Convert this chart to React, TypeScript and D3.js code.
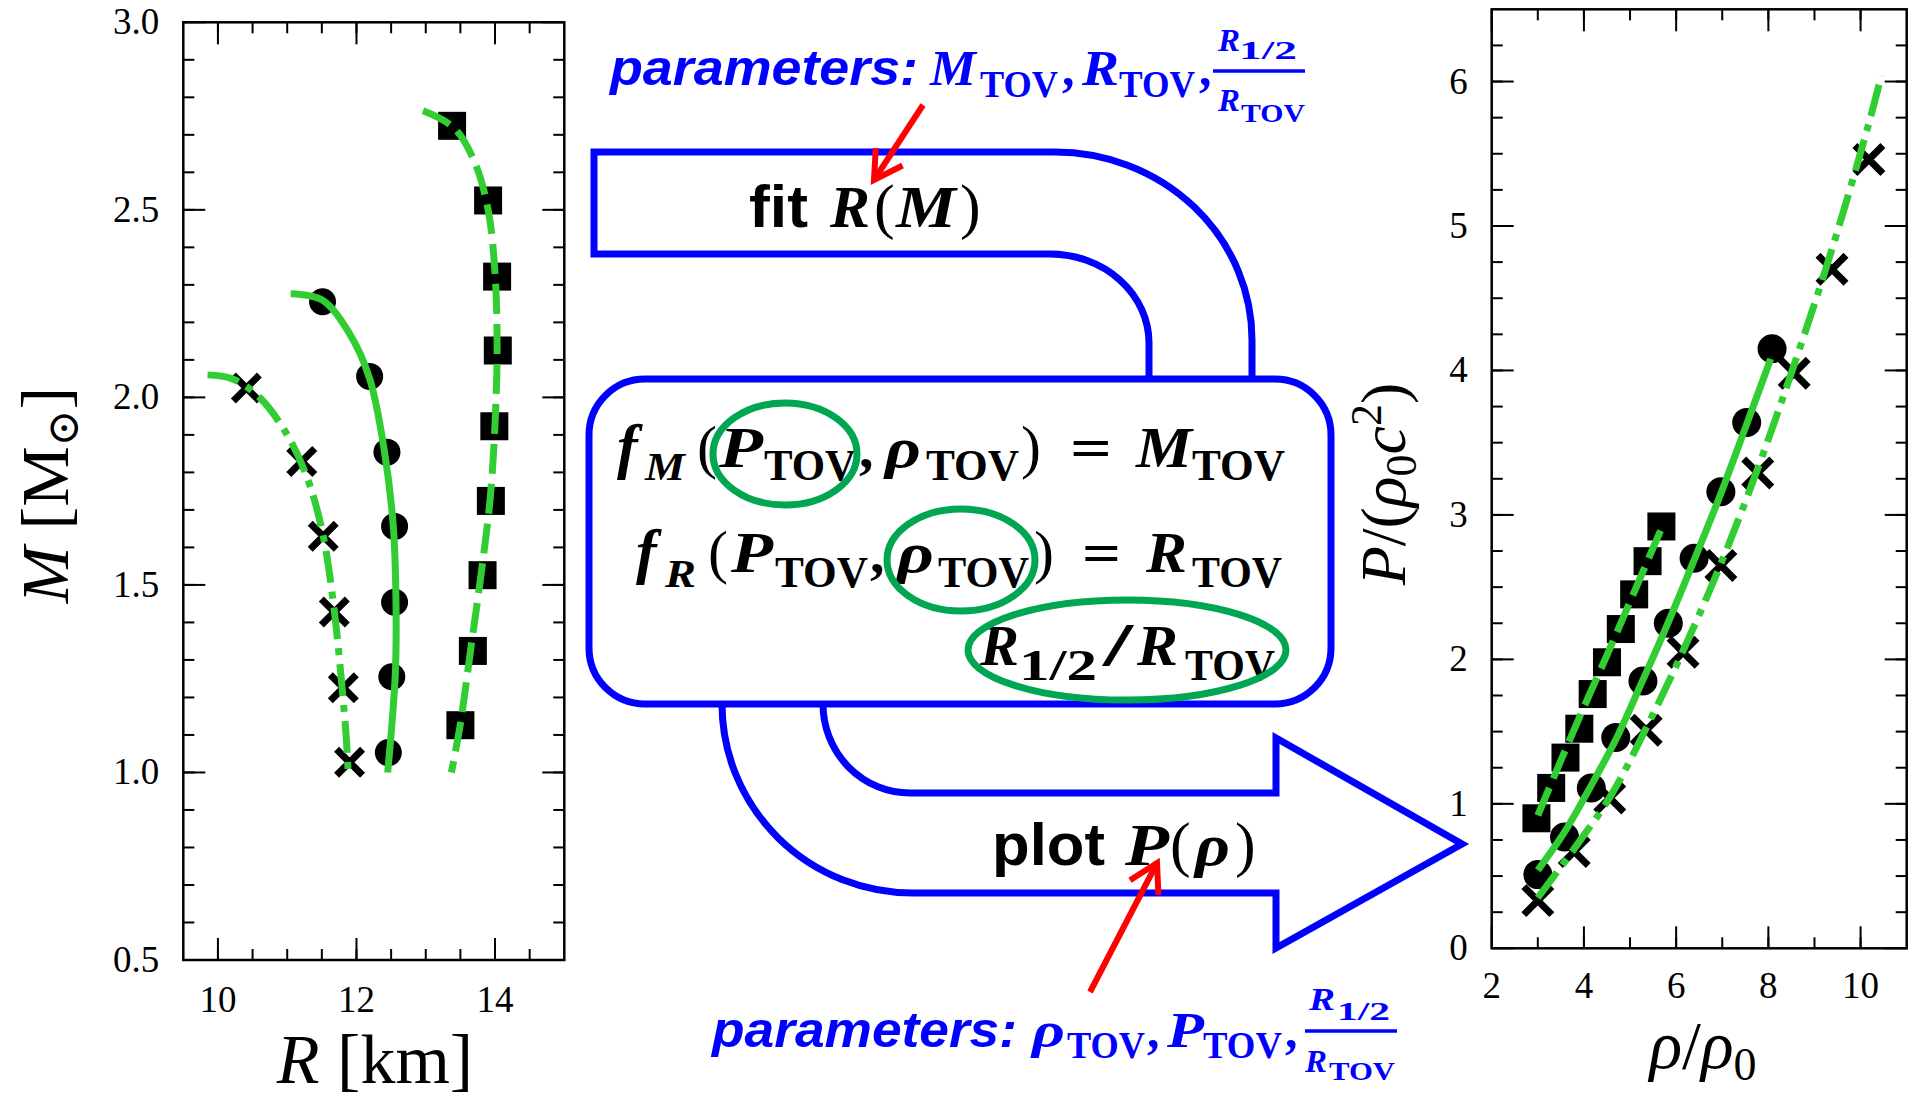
import * as d3 from "d3";
import React from "react";

const W = 1915;
const H = 1103;
const BLUE = "#0000ff";
const FIT_GREEN = "#32cd32";
const RING_GREEN = "#00a651";
const SERIF = "Liberation Serif";
const SANS = "Liberation Sans";

// ---- left panel: M(R) ----
const mrCrossR = [10.41, 11.21, 11.52, 11.68, 11.81, 11.9];
const mrCrossM = [2.025, 1.829, 1.63, 1.428, 1.226, 1.027];
const mrCircleR = [11.51, 12.19, 12.44, 12.55, 12.55, 12.51, 12.46];
const mrCircleM = [2.255, 2.056, 1.854, 1.656, 1.454, 1.255, 1.053];
const mrSquareR = [13.38, 13.9, 14.03, 14.04, 13.99, 13.94, 13.82, 13.68, 13.5];
const mrSquareM = [2.724, 2.525, 2.322, 2.125, 1.923, 1.724, 1.526, 1.324, 1.126];

const fitCrossR = [9.85, 10.2, 10.6, 11.0, 11.3, 11.52, 11.68, 11.79, 11.85, 11.88];
const fitCrossM = [2.06, 2.05, 2.0, 1.9, 1.78, 1.63, 1.43, 1.23, 1.1, 1.0];
const fitCircleR = [11.05, 11.5, 11.9, 12.19, 12.4, 12.53, 12.57, 12.56, 12.45];
const fitCircleM = [2.276, 2.26, 2.17, 2.05, 1.86, 1.66, 1.46, 1.26, 1.0];
const fitSquareR = [12.96, 13.4, 13.7, 13.9, 14.0, 14.03, 14.0, 13.93, 13.8, 13.65, 13.5, 13.37];
const fitSquareM = [2.764, 2.72, 2.63, 2.5, 2.33, 2.13, 1.93, 1.73, 1.53, 1.33, 1.13, 1.0];

const leftXTicks = [10, 12, 14];
const leftYTicks = [0.5, 1.0, 1.5, 2.0, 2.5, 3.0];

// ---- right panel: P(rho) ----
const prSquareRho = [2.97, 3.29, 3.6, 3.9, 4.19, 4.5, 4.8, 5.09, 5.38, 5.68];
const prSquareP = [0.9, 1.11, 1.32, 1.52, 1.76, 1.98, 2.21, 2.45, 2.68, 2.92];
const prCircleRho = [3.0, 3.58, 4.16, 4.69, 5.28, 5.83, 6.39, 6.97, 7.53, 8.08];
const prCircleP = [0.51, 0.77, 1.11, 1.46, 1.85, 2.25, 2.7, 3.16, 3.64, 4.15];
const prCrossRho = [3.0, 3.79, 4.56, 5.35, 6.15, 6.97, 7.77, 8.56, 9.38, 10.18];
const prCrossP = [0.33, 0.67, 1.04, 1.51, 2.05, 2.65, 3.29, 3.98, 4.7, 5.46];

const fitSquareRho = [3.0, 3.5, 4.0, 4.5, 5.0, 5.7];
const fitSquareP = [0.92, 1.3, 1.67, 2.03, 2.4, 2.92];
const fitCircleRho = [3.0, 3.57, 4.11, 4.73, 5.24, 5.82, 6.38, 6.96, 7.52, 8.05];
const fitCircleP = [0.54, 0.8, 1.1, 1.47, 1.83, 2.25, 2.68, 3.14, 3.62, 4.08];
const fitCrossRho = [3.0, 3.79, 4.59, 5.39, 6.18, 6.98, 7.78, 8.57, 9.37, 10.17, 10.45];
const fitCrossP = [0.35, 0.69, 1.06, 1.55, 2.08, 2.67, 3.33, 4.05, 4.83, 5.7, 6.04];

const rightXTicks = [2, 4, 6, 8, 10];
const rightYTicks = [0, 1, 2, 3, 4, 5, 6];

const zip = (a: number[], b: number[]) => a.map((v, i) => [v, b[i]] as [number, number]);

type Scale = d3.ScaleLinear<number, number>;

const Frame = ({ x, y, xMajor, xMinor, yMajor, yMinor, xFmt, yFmt, xLabelY }: {
  x: Scale; y: Scale; xMajor: number[]; xMinor: number[]; yMajor: number[]; yMinor: number[];
  xFmt: (v: number) => string; yFmt: (v: number) => string; xLabelY: number;
}) => {
  const [l, r] = x.range();
  const [b, t] = y.range();
  const maj = 22, min = 11;
  return (
    <g>
      {xMinor.map((v) => (
        <g key={"xm" + v} stroke="#000" strokeWidth={2}>
          <line x1={x(v)} x2={x(v)} y1={b} y2={b - min} />
          <line x1={x(v)} x2={x(v)} y1={t} y2={t + min} />
        </g>
      ))}
      {xMajor.map((v) => (
        <g key={"xM" + v}>
          <line x1={x(v)} x2={x(v)} y1={b} y2={b - maj} stroke="#000" strokeWidth={2} />
          <line x1={x(v)} x2={x(v)} y1={t} y2={t + maj} stroke="#000" strokeWidth={2} />
          <text x={x(v)} y={xLabelY} textAnchor="middle" fontSize={37} style={{ fontFamily: SERIF }}>{xFmt(v)}</text>
        </g>
      ))}
      {yMinor.map((v) => (
        <g key={"ym" + v} stroke="#000" strokeWidth={2}>
          <line x1={l} x2={l + min} y1={y(v)} y2={y(v)} />
          <line x1={r} x2={r - min} y1={y(v)} y2={y(v)} />
        </g>
      ))}
      {yMajor.map((v) => (
        <g key={"yM" + v}>
          <line x1={l} x2={l + maj} y1={y(v)} y2={y(v)} stroke="#000" strokeWidth={2} />
          <line x1={r} x2={r - maj} y1={y(v)} y2={y(v)} stroke="#000" strokeWidth={2} />
          <text x={l - 24} y={y(v) + 12} textAnchor="end" fontSize={37} style={{ fontFamily: SERIF }}>{yFmt(v)}</text>
        </g>
      ))}
      <rect x={l} y={t} width={r - l} height={b - t} fill="none" stroke="#000" strokeWidth={2.5} />
    </g>
  );
};

const Markers = ({ pts, kind, size }: { pts: [number, number][]; kind: string; size: number }) => (
  <g>
    {pts.map(([px, py], i) => {
      if (kind === "circle") return <circle key={i} cx={px} cy={py} r={size} fill="#000" />;
      if (kind === "square")
        return <rect key={i} x={px - size} y={py - size} width={size * 2} height={size * 2} fill="#000" />;
      return (
        <path key={i} d={`M${px - size},${py - size}L${px + size},${py + size}M${px - size},${py + size}L${px + size},${py - size}`}
          stroke="#000" strokeWidth={7} fill="none" />
      );
    })}
  </g>
);

const Seg = ({ x, y, t, size, fam = SERIF, bold = true, italic = false, w, fill = "#000" }: {
  x: number; y: number; t: string; size: number; fam?: string; bold?: boolean; italic?: boolean; w?: number; fill?: string;
}) => (
  <text x={x} y={y} fontSize={size} fill={fill}
    style={{ fontFamily: fam, fontWeight: bold ? 700 : 400, fontStyle: italic ? "italic" : "normal" }}
    textLength={w} lengthAdjust={w ? "spacingAndGlyphs" : undefined}>{t}</text>
);

const RedArrow = ({ x1, y1, x2, y2 }: { x1: number; y1: number; x2: number; y2: number }) => {
  const a = Math.atan2(y2 - y1, x2 - x1);
  const L = 32, s = Math.PI / 6;
  const w1 = [x2 - L * Math.cos(a - s), y2 - L * Math.sin(a - s)];
  const w2 = [x2 - L * Math.cos(a + s), y2 - L * Math.sin(a + s)];
  return (
    <g stroke="#ff0000" strokeWidth={6} fill="none">
      <line x1={x1} y1={y1} x2={x2} y2={y2} />
      <path d={`M${w1[0]},${w1[1]}L${x2},${y2}L${w2[0]},${w2[1]}`} strokeLinejoin="miter" />
    </g>
  );
};

export default function App() {
  // left panel scales
  const xL = d3.scaleLinear().domain([9.5, 15]).range([183.3, 564.3]);
  const yL = d3.scaleLinear().domain([0.5, 3.0]).range([960, 22.3]);
  // right panel scales
  const xR = d3.scaleLinear().domain([2, 11]).range([1491.7, 1906.7]);
  const yR = d3.scaleLinear().domain([0, 6.5]).range([948.3, 9.3]);

  const lineL = d3.line<[number, number]>().x((d) => xL(d[0])).y((d) => yL(d[1])).curve(d3.curveCatmullRom);
  const lineR = d3.line<[number, number]>().x((d) => xR(d[0])).y((d) => yR(d[1])).curve(d3.curveCatmullRom);

  const ptsL = (a: number[], b: number[]) => zip(a, b).map(([u, v]) => [xL(u), yL(v)] as [number, number]);
  const ptsR = (a: number[], b: number[]) => zip(a, b).map(([u, v]) => [xR(u), yR(v)] as [number, number]);

  const dash = "30 10";
  const dashDot = "32 9 7 9";

  return (
    <svg width={W} height={H} style={{ position: "absolute", left: 0, top: 0, background: "#fff" }}>
      <rect width={W} height={H} fill="#fff" />

      {/* ---------- left panel ---------- */}
      <Frame x={xL} y={yL} xMajor={leftXTicks} xMinor={d3.range(10, 15, 0.5)}
        yMajor={leftYTicks} yMinor={d3.range(0.6, 3.0, 0.1)}
        xFmt={(v) => String(v)} yFmt={(v) => v.toFixed(1)} xLabelY={1012} />
      <Markers pts={ptsL(mrCrossR, mrCrossM)} kind="cross" size={13} />
      <Markers pts={ptsL(mrCircleR, mrCircleM)} kind="circle" size={13.5} />
      <Markers pts={ptsL(mrSquareR, mrSquareM)} kind="square" size={14} />
      <g fill="none" stroke={FIT_GREEN} strokeWidth={7}>
        <path d={lineL(zip(fitCrossR, fitCrossM)) || ""} strokeDasharray={dashDot} />
        <path d={lineL(zip(fitCircleR, fitCircleM)) || ""} />
        <path d={lineL(zip(fitSquareR, fitSquareM)) || ""} strokeDasharray={dash} />
      </g>
      <text x={375} y={1083} textAnchor="middle" fontSize={70} style={{ fontFamily: SERIF }}>
        <tspan fontStyle="italic">R</tspan> [km]
      </text>
      <text transform="translate(68,495) rotate(-90)" textAnchor="middle" fontSize={68} style={{ fontFamily: SERIF }}>
        <tspan fontStyle="italic">M</tspan> [M<tspan fontSize={44} dy={10} style={{ fontFamily: "DejaVu Serif" }}>⊙</tspan><tspan dy={-10}>]</tspan>
      </text>

      {/* ---------- right panel ---------- */}
      <Frame x={xR} y={yR} xMajor={rightXTicks} xMinor={d3.range(3, 11, 1)}
        yMajor={rightYTicks} yMinor={d3.range(0.25, 6.5, 0.25)}
        xFmt={(v) => String(v)} yFmt={(v) => String(v)} xLabelY={998} />
      <Markers pts={ptsR(prSquareRho, prSquareP)} kind="square" size={14} />
      <Markers pts={ptsR(prCircleRho, prCircleP)} kind="circle" size={14.5} />
      <Markers pts={ptsR(prCrossRho, prCrossP)} kind="cross" size={14} />
      <g fill="none" stroke={FIT_GREEN} strokeWidth={7}>
        <path d={lineR(zip(fitSquareRho, fitSquareP)) || ""} strokeDasharray={dash} />
        <path d={lineR(zip(fitCircleRho, fitCircleP)) || ""} />
        <path d={lineR(zip(fitCrossRho, fitCrossP)) || ""} strokeDasharray={dashDot} />
      </g>
      <text x={1703} y={1068} textAnchor="middle" fontSize={68} style={{ fontFamily: SERIF }}>
        <tspan fontStyle="italic">ρ</tspan>/<tspan fontStyle="italic">ρ</tspan><tspan fontSize={46} dy={12}>0</tspan>
      </text>
      <text transform="translate(1405,484) rotate(-90)" textAnchor="middle" fontSize={64} style={{ fontFamily: SERIF }}>
        <tspan fontStyle="italic">P</tspan>/(<tspan fontStyle="italic">ρ</tspan><tspan fontSize={44} dy={11}>0</tspan><tspan dy={-11} fontStyle="italic">c</tspan><tspan fontSize={44} dy={-24}>2</tspan><tspan dy={24}>)</tspan>
      </text>

      {/* ---------- flow diagram ---------- */}
      <g fill="none" stroke={BLUE} strokeWidth={7} strokeLinejoin="miter">
        <path d="M1252,381 L1252,340 A197,188 0 0 0 1055,152 L594,152 L594,254 L1050,254 A99,89 0 0 1 1149,343 L1149,381" />
        <rect x={589} y={379} width={742} height={325} rx={56} ry={56} />
        <path d="M722,704 A191,189 0 0 0 913,893 L1276,893 L1276,948 L1462,844 L1276,738 L1276,793 L910,793 A87,89 0 0 1 823,704" />
      </g>

      {/* top parameters */}
      <Seg x={610} y={85} t="parameters:" size={50} fam={SANS} italic w={308} fill={BLUE} />
      <Seg x={930} y={85} t="M" size={50} italic w={46} fill={BLUE} />
      <Seg x={980} y={97} t="TOV" size={38} w={78} fill={BLUE} />
      <Seg x={1062} y={85} t="," size={50} fill={BLUE} />
      <Seg x={1082} y={85} t="R" size={50} italic w={37} fill={BLUE} />
      <Seg x={1119} y={97} t="TOV" size={38} w={76} fill={BLUE} />
      <Seg x={1199} y={85} t="," size={50} fill={BLUE} />
      <line x1={1213} x2={1305} y1={71} y2={71} stroke={BLUE} strokeWidth={3.5} />
      <Seg x={1218} y={51} t="R" size={32} italic w={22} fill={BLUE} />
      <Seg x={1239} y={59} t="1/2" size={26} w={58} fill={BLUE} />
      <Seg x={1218} y={111} t="R" size={32} italic w={22} fill={BLUE} />
      <Seg x={1241} y={122} t="TOV" size={26} w={64} fill={BLUE} />

      {/* fit R(M) */}
      <Seg x={749} y={227} t="fit" size={60} fam={SANS} w={59} />
      <Seg x={830} y={227} t="R" size={60} italic w={40} />
      <Seg x={874} y={227} t="(" size={62} bold={false} />
      <Seg x={896} y={227} t="M" size={60} italic w={60} />
      <Seg x={960} y={227} t=")" size={62} bold={false} />

      {/* equations */}
      <Seg x={617} y={467} t="f" size={62} italic />
      <Seg x={645} y={480} t="M" size={40} italic w={40} />
      <Seg x={697} y={467} t="(" size={60} bold={false} />
      <Seg x={719} y={467} t="P" size={58} italic w={44} />
      <Seg x={764} y={480} t="TOV" size={44} w={92} />
      <Seg x={859} y={467} t="," size={58} />
      <Seg x={885} y={467} t="ρ" size={58} italic w={36} />
      <Seg x={926} y={480} t="TOV" size={44} w={93} />
      <Seg x={1021} y={467} t=")" size={60} bold={false} />
      <Seg x={1070} y={467} t="=" size={58} w={42} />
      <Seg x={1136} y={467} t="M" size={58} italic w={56} />
      <Seg x={1192} y={480} t="TOV" size={44} w={93} />

      <Seg x={636} y={572} t="f" size={62} italic />
      <Seg x={665} y={587} t="R" size={40} italic w={31} />
      <Seg x={708} y={572} t="(" size={60} bold={false} />
      <Seg x={731} y={572} t="P" size={58} italic w={42} />
      <Seg x={775} y={587} t="TOV" size={44} w={93} />
      <Seg x={870} y={572} t="," size={58} />
      <Seg x={897} y={572} t="ρ" size={58} italic w={37} />
      <Seg x={938} y={587} t="TOV" size={44} w={91} />
      <Seg x={1034} y={572} t=")" size={60} bold={false} />
      <Seg x={1082} y={572} t="=" size={58} w={39} />
      <Seg x={1146} y={572} t="R" size={58} italic w={41} />
      <Seg x={1192} y={587} t="TOV" size={44} w={90} />

      <Seg x={980} y={665} t="R" size={58} italic w={39} />
      <Seg x={1019} y={680} t="1/2" size={44} w={78} />
      <Seg x={1103} y={665} t="/" size={62} w={30} />
      <Seg x={1137} y={665} t="R" size={58} italic w={41} />
      <Seg x={1185} y={680} t="TOV" size={44} w={90} />

      <g fill="none" stroke={RING_GREEN} strokeWidth={7}>
        <ellipse cx={785} cy={454} rx={72} ry={51} />
        <ellipse cx={961} cy={560} rx={74} ry={51} />
        <ellipse cx={1127} cy={650} rx={159} ry={50} />
      </g>

      {/* plot P(rho) */}
      <Seg x={992} y={865} t="plot" size={60} fam={SANS} w={113} />
      <Seg x={1125} y={865} t="P" size={60} italic w={44} />
      <Seg x={1170} y={865} t="(" size={62} bold={false} />
      <Seg x={1195} y={865} t="ρ" size={60} italic w={35} />
      <Seg x={1235} y={865} t=")" size={62} bold={false} />

      {/* bottom parameters */}
      <Seg x={712} y={1047} t="parameters:" size={50} fam={SANS} italic w={305} fill={BLUE} />
      <Seg x={1032} y={1047} t="ρ" size={50} italic w={33} fill={BLUE} />
      <Seg x={1067} y={1058} t="TOV" size={38} w={78} fill={BLUE} />
      <Seg x={1147} y={1047} t="," size={50} fill={BLUE} />
      <Seg x={1167} y={1047} t="P" size={50} italic w={37} fill={BLUE} />
      <Seg x={1203} y={1058} t="TOV" size={38} w={79} fill={BLUE} />
      <Seg x={1285} y={1047} t="," size={50} fill={BLUE} />
      <line x1={1305} x2={1397} y1={1031} y2={1031} stroke={BLUE} strokeWidth={3.5} />
      <Seg x={1309} y={1010} t="R" size={32} italic w={26} fill={BLUE} />
      <Seg x={1337} y={1020} t="1/2" size={26} w={53} fill={BLUE} />
      <Seg x={1305} y={1072} t="R" size={32} italic w={22} fill={BLUE} />
      <Seg x={1329} y={1080} t="TOV" size={26} w={66} fill={BLUE} />

      {/* red arrows */}
      <RedArrow x1={923} y1={105} x2={874} y2={180} />
      <RedArrow x1={1090} y1={992} x2={1157} y2={863} />
    </svg>
  );
}
